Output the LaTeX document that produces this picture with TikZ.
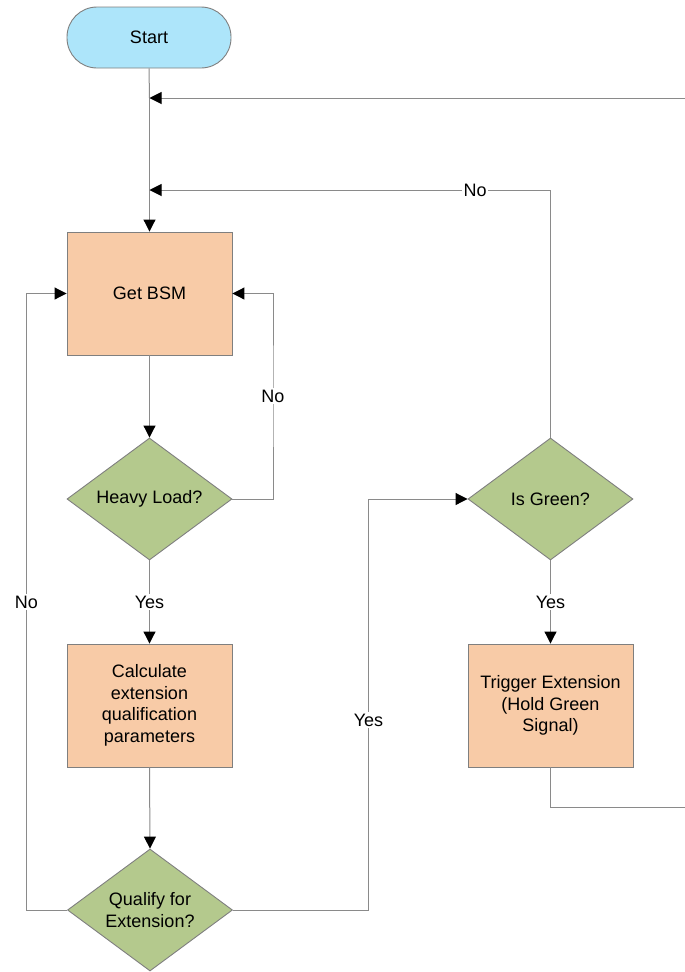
\documentclass[tikz,border=0pt]{standalone}
\usepackage{fontspec}
\setmainfont{Liberation Sans}
\usetikzlibrary{shapes.geometric,arrows.meta}
\definecolor{termfill}{HTML}{ADE5FA}
\definecolor{procfill}{HTML}{F8CBA7}
\definecolor{decfill}{HTML}{B4C98D}
\definecolor{edgegray}{HTML}{7F7F7F}
\definecolor{linegray}{HTML}{8A8A8A}
\tikzset{
  base/.style={draw=edgegray, line width=0.9pt, font=\fontsize{18}{21.5}\selectfont, align=center, inner sep=0pt},
  terminal/.style={base, fill=termfill, minimum width=164pt, minimum height=61pt, rounded corners=30pt},
  process/.style={base, fill=procfill, minimum width=165pt, minimum height=123pt},
  decision/.style={base, fill=decfill, shape=diamond, aspect=1.35, minimum width=165pt, minimum height=122pt},
  flow/.style={draw=linegray, line width=1pt},
  arr/.style={flow, -{Triangle[length=12pt,width=12pt,color=black]}},
  lbl/.style={fill=white, inner sep=1.5pt, font=\fontsize{18}{21.5}\selectfont}
}
\begin{document}
\begin{tikzpicture}[x=1pt,y=-1pt]
\useasboundingbox (0,0) rectangle (685,972);

% nodes
\node[terminal] (start) at (149,37.5) {Start};
\node[process]  (bsm)   at (149.5,293.5) {Get BSM};
\node[decision] (heavy) at (149.5,499) {Heavy Load?};
\node[process]  (calc)  at (149.5,705.5) {Calculate\\extension\\qualification\\parameters};
\node[decision] (qual)  at (150,910) {Qualify for\\Extension?};
\node[decision] (green) at (550.5,499) {Is Green?};
\node[process]  (trig)  at (550.5,705.5) {Trigger Extension\\(Hold Green\\Signal)};

% helper points
\coordinate (jtop) at (149.5,98);
\coordinate (jno)  at (149.5,190);
\coordinate (rin)  at (685,98);
\coordinate (rout) at (685,807);

% main spine
\draw[flow] (start.south) -- (jtop);
\draw[arr] (jtop) -- (bsm.north);
\draw[arr] (bsm.south) -- (heavy.north);
\draw[arr] (heavy.south) -- node[lbl]{Yes} (calc.north);
\draw[arr] (calc.south) -- (qual.north);

% entries from the right
\draw[arr] (rin) -- (jtop);
\draw[arr] (green.north) |- node[lbl, pos=0.594]{No} (jno);

% loops back to Get BSM
\draw[arr] (heavy.east) -| (273,396) node[lbl]{No} |- (bsm.east);
\draw[arr] (qual.west) -| (26.5,602) node[lbl]{No} |- (bsm.west);

% qualify yes to green
\draw[arr] (qual.east) -| (368.5,720) node[lbl]{Yes} |- (green.west);

% green yes to trigger
\draw[arr] (green.south) -- node[lbl]{Yes} (trig.north);

% trigger out
\draw[flow] (trig.south) |- (rout);
\end{tikzpicture}
\end{document}
